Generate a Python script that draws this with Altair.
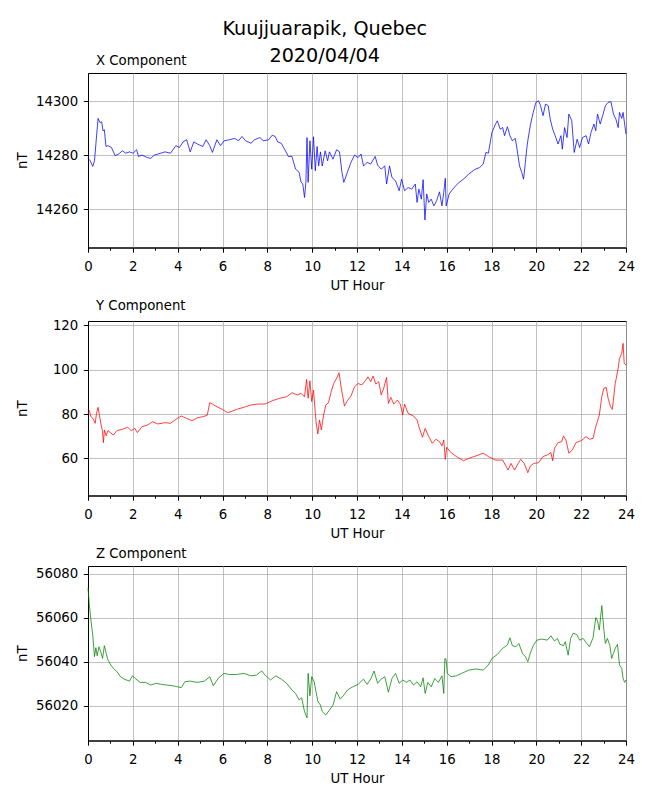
import altair as alt
import pandas as pd

# ---------------- data ----------------
x_hours = [0, 0.10, 0.21, 0.29, 0.37, 0.45, 0.53, 0.61, 0.67, 0.73, 0.80, 0.89, 1.05, 1.21, 1.37, 1.53, 1.69, 1.85, 2.01, 2.17,
           2.25, 2.41, 2.65, 2.80, 2.96, 3.12, 3.44, 3.68, 3.92, 4.08, 4.24, 4.40, 4.56, 4.72, 4.88, 5.12, 5.27, 5.43, 5.55, 5.75,
           5.91, 6.07, 6.31, 6.55, 6.71, 6.87, 7.03, 7.27, 7.43, 7.67, 7.82, 8.06, 8.22, 8.35, 8.46, 8.62, 8.78, 8.94, 9.10, 9.26,
           9.42, 9.50, 9.58, 9.66, 9.72, 9.77, 9.82, 9.90, 9.98, 10.06, 10.14, 10.22, 10.29, 10.37, 10.45, 10.58, 10.69, 10.77, 10.93, 11.09,
           11.22, 11.33, 11.41, 11.57, 11.73, 11.89, 12.05, 12.18, 12.29, 12.45, 12.61, 12.81, 12.92, 13.08, 13.24, 13.32, 13.45, 13.56, 13.72, 13.88,
           13.99, 14.12, 14.28, 14.44, 14.60, 14.68, 14.76, 14.87, 14.95, 15.03, 15.11, 15.20, 15.31, 15.43, 15.55, 15.68, 15.79, 15.87, 15.94, 15.98,
           16.11, 16.27, 16.51, 16.75, 16.99, 17.23, 17.47, 17.63, 17.75, 17.86, 18.02, 18.18, 18.26, 18.39, 18.50, 18.58, 18.71, 18.82, 18.93, 19.06,
           19.14, 19.25, 19.35, 19.43, 19.51, 19.57, 19.63, 19.73, 19.86, 19.98, 20.10, 20.18, 20.30, 20.41, 20.53, 20.62, 20.73, 20.84, 20.97, 21.10,
           21.16, 21.26, 21.37, 21.45, 21.58, 21.69, 21.82, 21.93, 22.06, 22.22, 22.33, 22.44, 22.57, 22.65, 22.73, 22.85, 22.96, 23.08, 23.20, 23.33,
           23.44, 23.55, 23.65, 23.71, 23.81, 23.87, 24.0]
x_values = [14278.8, 14277.9, 14275.8, 14277.9, 14285.9, 14293.6, 14292.1, 14292.3, 14289.0, 14289.4, 14283.2, 14283.5, 14282.8, 14279.8, 14280.4, 14281.6, 14280.7, 14281.2, 14280.7, 14282.0,
            14279.5, 14280.0, 14279.1, 14278.8, 14280.0, 14280.4, 14281.2, 14280.7, 14283.5, 14282.8, 14284.9, 14285.7, 14281.2, 14284.9, 14284.1, 14283.2, 14285.7, 14283.5, 14281.0, 14285.7,
            14283.5, 14285.3, 14285.7, 14286.2, 14285.3, 14286.9, 14285.3, 14284.4, 14285.7, 14286.5, 14285.3, 14285.7, 14287.4, 14286.9, 14284.9, 14284.4, 14282.0, 14279.5, 14279.5, 14274.8,
            14273.6, 14270.1, 14269.3, 14264.3, 14269.9, 14286.5, 14269.9, 14285.3, 14274.8, 14286.8, 14274.2, 14283.2, 14276.0, 14281.2, 14276.0, 14281.6, 14277.9, 14281.2, 14278.5, 14282.0,
            14281.2, 14273.6, 14269.9, 14273.6, 14277.3, 14280.0, 14279.1, 14280.4, 14276.0, 14277.3, 14276.7, 14279.5, 14276.3, 14274.8, 14276.0, 14269.3, 14276.0, 14271.7, 14270.5, 14266.8,
            14271.1, 14266.8, 14268.0, 14267.4, 14269.3, 14262.5, 14267.4, 14263.7, 14270.9, 14256.0, 14265.6, 14262.5, 14263.7, 14261.2, 14263.1, 14266.4, 14261.2, 14266.2, 14271.4, 14261.2,
            14265.6, 14267.4, 14269.6, 14271.1, 14273.0, 14274.6, 14275.4, 14276.7, 14281.0, 14280.7, 14288.4, 14291.5, 14292.7, 14289.6, 14290.2, 14287.2, 14290.5, 14287.2, 14285.3, 14286.2,
            14282.2, 14276.0, 14273.6, 14271.1, 14277.3, 14282.2, 14285.9, 14290.9, 14295.8, 14299.5, 14300.1, 14298.5, 14294.6, 14298.9, 14298.3, 14293.3, 14289.6, 14287.2, 14284.1, 14287.2,
            14282.2, 14290.2, 14286.5, 14295.2, 14292.7, 14281.0, 14285.9, 14282.8, 14286.5, 14287.2, 14284.1, 14288.4, 14291.5, 14289.0, 14295.2, 14291.5, 14294.6, 14298.3, 14299.5, 14299.8,
            14295.2, 14293.3, 14290.2, 14295.8, 14293.6, 14295.8, 14287.8]

y_hours = [0, 0.06, 0.13, 0.22, 0.32, 0.38, 0.45, 0.51, 0.57, 0.64, 0.69, 0.73, 0.81, 0.89, 1.13, 1.29, 1.53, 1.77, 1.93, 2.09,
           2.20, 2.41, 2.65, 2.88, 3.12, 3.44, 3.68, 3.92, 4.16, 4.40, 4.64, 4.88, 5.12, 5.32, 5.43, 5.55, 5.75, 5.99, 6.23, 6.39,
           6.63, 6.95, 7.27, 7.59, 7.90, 8.22, 8.54, 8.86, 9.10, 9.34, 9.50, 9.66, 9.75, 9.82, 9.90, 9.98, 10.06, 10.14, 10.18, 10.25,
           10.33, 10.41, 10.50, 10.61, 10.73, 10.85, 10.96, 11.09, 11.20, 11.30, 11.44, 11.57, 11.73, 11.89, 12.05, 12.21, 12.37, 12.49, 12.61, 12.72,
           12.84, 12.97, 13.08, 13.20, 13.32, 13.40, 13.51, 13.64, 13.80, 13.93, 14.04, 14.12, 14.28, 14.52, 14.68, 14.76, 14.92, 15.04, 15.20, 15.36,
           15.52, 15.68, 15.79, 15.87, 15.94, 16.00, 16.19, 16.43, 16.75, 16.99, 17.31, 17.63, 17.86, 18.18, 18.50, 18.74, 18.87, 19.03, 19.19, 19.30,
           19.46, 19.62, 19.73, 19.89, 20.10, 20.30, 20.49, 20.65, 20.73, 20.81, 20.97, 21.13, 21.21, 21.32, 21.45, 21.61, 21.77, 22.01, 22.22, 22.37,
           22.53, 22.65, 22.81, 22.92, 23.01, 23.12, 23.20, 23.31, 23.39, 23.52, 23.65, 23.71, 23.81, 23.87, 23.92, 24.0]
y_values = [80.3, 81.5, 78.8, 78.0, 75.8, 80.3, 83.0, 79.5, 75.8, 72.5, 67.1, 72.8, 70.2, 72.5, 70.5, 72.5, 73.1, 74.0, 72.5, 73.5,
            71.6, 74.3, 75.0, 76.5, 75.5, 76.1, 75.8, 77.6, 79.1, 78.0, 77.0, 78.3, 78.8, 79.4, 85.1, 84.5, 83.3, 82.1, 80.6, 81.1,
            82.1, 83.0, 84.1, 84.5, 84.5, 86.0, 87.1, 87.8, 89.6, 88.6, 89.3, 87.8, 95.6, 87.1, 95.0, 85.6, 90.8, 80.3, 76.1, 71.0,
            77.3, 72.8, 79.1, 84.1, 85.1, 90.1, 93.8, 96.1, 98.6, 91.6, 83.6, 86.0, 88.1, 92.3, 93.8, 93.1, 95.0, 96.8, 94.6, 97.1,
            93.5, 94.6, 88.6, 92.0, 96.5, 84.8, 87.5, 84.5, 86.3, 84.5, 79.5, 84.5, 80.3, 79.1, 77.3, 74.3, 69.5, 73.5, 69.8, 66.8,
            68.6, 67.5, 65.6, 68.3, 59.5, 65.0, 62.6, 60.8, 58.9, 60.0, 61.1, 62.3, 60.8, 59.2, 59.2, 54.7, 57.7, 54.7, 57.7, 59.5,
            57.7, 53.5, 56.5, 57.7, 58.0, 60.8, 61.5, 62.6, 58.9, 64.5, 67.1, 67.5, 70.1, 68.3, 62.3, 63.8, 67.1, 68.0, 69.8, 68.6,
            69.0, 74.3, 79.5, 87.8, 91.6, 92.0, 87.1, 83.3, 82.1, 93.8, 100.6, 105.1, 107.4, 111.9, 102.9, 102.1]

z_hours = [0, 0.06, 0.13, 0.21, 0.29, 0.35, 0.41, 0.49, 0.57, 0.65, 0.73, 0.81, 0.89, 1.02, 1.13, 1.29, 1.45, 1.61, 1.85, 1.98,
           2.14, 2.33, 2.57, 2.80, 3.04, 3.28, 3.52, 3.76, 4.00, 4.16, 4.32, 4.56, 4.88, 5.20, 5.43, 5.59, 5.83, 6.07, 6.31, 6.63,
           6.95, 7.27, 7.51, 7.75, 7.90, 8.14, 8.38, 8.62, 8.86, 9.10, 9.26, 9.42, 9.53, 9.66, 9.77, 9.82, 9.90, 9.98, 10.09, 10.17,
           10.26, 10.37, 10.45, 10.61, 10.77, 10.93, 11.09, 11.25, 11.41, 11.57, 11.81, 12.05, 12.29, 12.45, 12.61, 12.76, 12.92, 13.08, 13.24, 13.40,
           13.56, 13.72, 13.88, 14.04, 14.20, 14.36, 14.52, 14.68, 14.84, 14.95, 15.04, 15.16, 15.31, 15.47, 15.63, 15.79, 15.87, 15.92, 15.97, 16.03,
           16.19, 16.43, 16.67, 16.99, 17.31, 17.63, 17.86, 18.02, 18.26, 18.50, 18.71, 18.82, 18.93, 19.09, 19.22, 19.38, 19.51, 19.62, 19.73, 19.86,
           20.02, 20.25, 20.49, 20.65, 20.81, 20.94, 21.05, 21.21, 21.29, 21.42, 21.53, 21.64, 21.80, 21.93, 22.09, 22.25, 22.37, 22.53, 22.65, 22.73,
           22.81, 22.92, 23.01, 23.08, 23.17, 23.28, 23.36, 23.44, 23.52, 23.62, 23.71, 23.81, 23.87, 23.94, 24.0]
z_values = [56073.6, 56065.8, 56058.9, 56052.1, 56042.3, 56046.4, 56042.7, 56046.8, 56044.5, 56041.5, 56047.3, 56043.8, 56040.8, 56038.5, 56037.0, 56035.5, 56033.2, 56032.1, 56031.2, 56033.6,
            56032.1, 56030.6, 56030.6, 56029.4, 56030.2, 56029.7, 56029.4, 56029.1, 56028.6, 56028.2, 56030.9, 56031.2, 56030.6, 56031.2, 56033.2, 56029.1, 56032.7, 56034.7, 56034.2, 56034.2,
            56034.7, 56033.6, 56033.9, 56035.8, 56033.9, 56031.7, 56033.6, 56032.1, 56030.2, 56027.1, 56025.6, 56022.6, 56023.6, 56017.3, 56014.5, 56034.7, 56024.5, 56033.2, 56030.9, 56026.4,
            56021.8, 56020.3, 56017.3, 56015.8, 56018.0, 56020.3, 56026.4, 56023.0, 56024.8, 56027.1, 56028.6, 56029.7, 56032.1, 56029.7, 56032.1, 56035.8, 56030.2, 56032.1, 56033.2, 56026.1,
            56032.4, 56034.7, 56030.2, 56031.7, 56030.6, 56031.7, 56029.4, 56030.9, 56028.6, 56032.7, 56025.6, 56030.6, 56028.6, 56032.4, 56030.6, 56033.6, 56025.6, 56041.5, 56041.2, 56034.7,
            56033.2, 56033.6, 56034.7, 56036.2, 56036.7, 56036.2, 56038.5, 56041.5, 56043.3, 56046.1, 56047.6, 56050.9, 56047.3, 56046.8, 56048.3, 56043.8, 56042.3, 56040.0, 56043.8, 56047.3,
            56049.8, 56050.3, 56049.8, 56051.8, 56049.4, 56050.6, 56047.9, 56047.3, 56049.1, 56043.0, 56050.6, 56052.9, 56052.4, 56049.8, 56050.6, 56048.3, 56046.8, 56050.9, 56060.0, 56058.5,
            56054.4, 56065.5, 56054.8, 56048.3, 56050.6, 56047.3, 56041.5, 56043.8, 56046.1, 56047.9, 56038.5, 56037.0, 56032.4, 56030.6, 56031.7]

x_ticks = [14260, 14280, 14300]
y_ticks = [60, 80, 100, 120]
z_ticks = [56020, 56040, 56060, 56080]
hour_ticks = list(range(0, 25))

FONT = "DejaVu Sans"
W, H = 538, 174.5


def panel(hours, values, name, color, domain, ticks):
    df = pd.DataFrame({"hour": hours, "nT": values})
    x_axis = alt.Axis(
        values=hour_ticks,
        title="UT Hour",
        labelExpr="datum.value % 2 == 0 ? datum.label : ''",
        tickSize={"condition": {"test": "datum.value % 2 == 0", "value": 4.7}, "value": 2.7},
        gridOpacity={"condition": {"test": "datum.value % 2 == 0", "value": 1}, "value": 0},
        labelFlush=False,
        labelOverlap=False,
        labelPadding=7,
        titlePadding=5.5,
    )
    y_axis = alt.Axis(
        values=ticks,
        format="d",
        title="nT",
        tickSize=4.7,
        labelPadding=5.5,
        labelFlush=False,
        titleX=-66,
        titleY=H / 2,
        titleAlign="center",
        titleBaseline="middle",
        titleAngle=270,
    )
    return (
        alt.Chart(df)
        .mark_line(color=color, strokeWidth=0.75)
        .encode(
            x=alt.X("hour:Q", scale=alt.Scale(domain=[0, 24], nice=False, zero=False), axis=x_axis),
            y=alt.Y("nT:Q", scale=alt.Scale(domain=domain, nice=False, zero=False), axis=y_axis),
        )
        .properties(
            width=W,
            height=H,
            title=alt.TitleParams(
                text=name, anchor="start", frame="group", fontSize=13.3, fontWeight="normal", font=FONT,
                color="black", dx=8, offset=6,
            ),
        )
    )


p1 = panel(x_hours, x_values, "X Component", "#0000ff", [14245.8, 14310.4], x_ticks)
p2 = panel(y_hours, y_values, "Y Component", "#ff0000", [43.2, 122.0], y_ticks)
p3 = panel(z_hours, z_values, "Z Component", "#008000", [56004.2, 56083.5], z_ticks)

chart = (
    alt.vconcat(p1, p2, p3, spacing=6)
    .properties(
        title=alt.TitleParams(
            text=["Kuujjuarapik, Quebec", "2020/04/04"], anchor="middle", fontSize=19.2,
            fontWeight="normal", font=FONT, color="black", lineHeight=27, offset=-12.7,
        ),
        padding={"left": 6, "top": 11, "right": 4, "bottom": 4},
        background="white",
    )
    .configure_view(stroke="black", strokeWidth=1)
    .configure_axis(
        labelFont=FONT, titleFont=FONT, labelFontSize=13.3, titleFontSize=13.3,
        labelColor="black", titleColor="black", titleFontWeight="normal",
        domainColor="black", tickColor="black", tickWidth=1, domainWidth=1,
        gridColor="#b0b0b0", gridWidth=0.8,
    )
)

chart.save("out.html", embed_options={"renderer": "svg", "actions": False})
